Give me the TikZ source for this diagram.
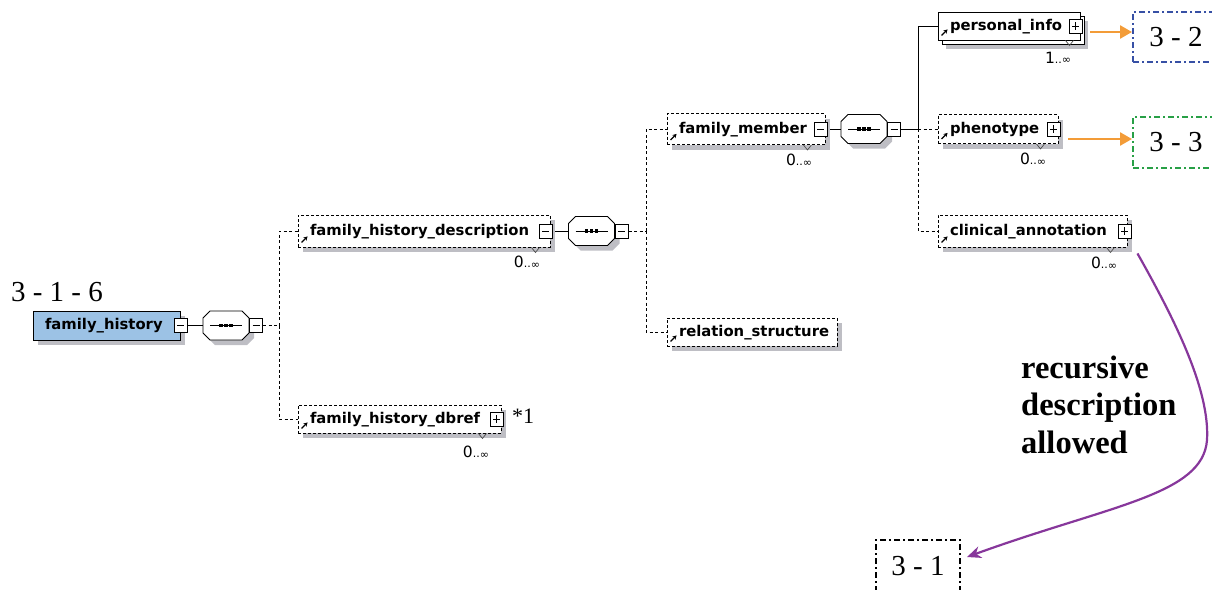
\documentclass[tikz,border=0pt]{standalone}
\usepackage{fontspec}
\setmainfont{Liberation Serif}
\newfontfamily\elemfont{DejaVu Sans}
\usetikzlibrary{arrows.meta,calc}
\pgfdeclarelayer{bg}
\pgfsetlayers{bg,main}

\definecolor{elemblue}{RGB}{156,194,229}
\definecolor{shadowgray}{RGB}{190,190,196}
\definecolor{linkorange}{RGB}{243,156,56}
\definecolor{refblue}{RGB}{55,80,165}
\definecolor{refgreen}{RGB}{40,160,70}
\definecolor{recpurple}{RGB}{135,55,155}

\tikzset{
  elem/.style={draw, line width=0.9pt, dash pattern=on 3pt off 2pt, fill=white,
    inner xsep=12pt, inner ysep=0pt, align=left, text height=11pt, text depth=3pt,
    font=\elemfont\bfseries\fontsize{14.8}{16}\selectfont,
    preaction={fill=shadowgray, transform canvas={shift={(5pt,-5pt)}}}},
  rootelem/.style={elem, solid, fill=elemblue},
  pmbase/.style={draw, solid, line width=0.8pt, fill=white, minimum width=13pt,
    minimum height=14pt, inner sep=0pt},
  minusbox/.style={pmbase, path picture={
    \draw[line width=0.8pt] ($(path picture bounding box.west)+(3pt,0)$) -- ($(path picture bounding box.east)+(-3pt,0)$);}},
  plusbox/.style={pmbase, path picture={
    \draw[line width=0.8pt] ($(path picture bounding box.west)+(3pt,0)$) -- ($(path picture bounding box.east)+(-3pt,0)$);
    \draw[line width=0.8pt] ($(path picture bounding box.north)+(0,-3pt)$) -- ($(path picture bounding box.south)+(0,3pt)$);}},
  conn/.style={line width=0.9pt, dash pattern=on 3pt off 2.5pt},
  solidconn/.style={line width=0.9pt},
  mult/.style={inner sep=0pt, font=\elemfont\fontsize{15.5}{16}\selectfont},
  repm/.style={line width=0.7pt, black!70},
  refbox/.style={line width=2pt, dash pattern=on 6pt off 3pt on 2pt off 3pt,
    font=\fontsize{29}{32}\selectfont},
  linkarrow/.style={draw=linkorange, line width=2.5pt, -{Triangle[length=12pt,width=13pt]}},
  recarrow/.style={draw=recpurple, line width=2.2pt, -{Stealth[length=14pt,width=12pt]}},
}

% octagonal sequence compositor outline
\newcommand\octpath[2]{({#1-16},{#2-14.5}) -- ({#1+16},{#2-14.5}) -- ({#1+23},{#2-7.5}) -- ({#1+23},{#2+7.5}) -- ({#1+16},{#2+14.5}) -- ({#1-16},{#2+14.5}) -- ({#1-23},{#2+7.5}) -- ({#1-23},{#2-7.5}) -- cycle}
\newcommand\seqnode[3]{%
  \node[minimum width=46pt, minimum height=29pt, inner sep=0pt] (#1) at (#2,#3) {};
  \fill[shadowgray, transform canvas={shift={(5pt,-5pt)}}] \octpath{#2}{#3};
  \filldraw[fill=white, draw=black, line width=0.9pt] \octpath{#2}{#3};
  \draw[line width=1pt] ({#2-16},#3) -- ({#2+16},#3);
  \foreach \d in {-5,0,5} \fill ({#2+\d-1.8},{#3-1.8}) rectangle ({#2+\d+1.8},{#3+1.8});
  \node[minusbox, anchor=west] (#1m) at (#1.east) {};
}
% small reference arrow in the lower left corner of an element
\newcommand\refarrow[1]{\draw[line width=1.3pt, -{Stealth[length=4pt,width=4.5pt]}] ($(#1.south west)+(4,-5)$) -- ++(6,-6);}
% repetition notch on the lower edge of an element
\newcommand\repmark[2]{\draw[repm] ($(#1.south east)+(#2,0)$) ++(-4,0) -- ++(4,5) -- ++(4,-5);}
\newcommand\multlabel[1]{#1{\fontsize{11}{11}\selectfont..\raisebox{-0.5pt}{∞}}}

\begin{document}
\begin{tikzpicture}[x=1pt, y=-1pt]
\useasboundingbox (0,0) rectangle (1212,589);

% root element and its sequence
\node[font=\fontsize{29}{32}\selectfont, inner sep=0pt] (lbl316) at (57,292.5) {3 - 1 - 6};
\node[rootelem, minimum height=29pt, text width=123pt] (fh) at (106.5,325.5) {family\_history};
\node[minusbox] (fhm) at (fh.east) {};
\seqnode{seq1}{226}{325.5}
\coordinate (j1) at (279,325.5);

% second level
\node[elem, minimum height=32pt, text width=228pt] (fhd) at (424,231) {family\_history\_description};
\node[minusbox, anchor=east] (fhdm) at ($(fhd.east)+(2,0)$) {};
\refarrow{fhd}
\repmark{fhd}{-15}
\node[mult] (fhdmult) at (527,262) {\multlabel{0}};

\node[elem, minimum height=28pt, text width=179pt] (dbref) at (399.5,419) {family\_history\_dbref};
\node[plusbox, anchor=east] (dbrefp) at ($(dbref.east)+(2,0)$) {};
\refarrow{dbref}
\repmark{dbref}{-19}
\node[mult] (dbrefmult) at (476,452) {\multlabel{0}};
\node[font=\fontsize{22}{24}\selectfont, inner sep=0pt, anchor=west] (note1) at (512,416) {*1};

\seqnode{seq2}{591.5}{231}
\coordinate (j2) at (646,231);

% third level
\node[elem, minimum height=31pt, text width=134pt] (fm) at (746,129) {family\_member};
\node[minusbox, anchor=east] (fmm) at ($(fm.east)+(2,0)$) {};
\refarrow{fm}
\repmark{fm}{-18}
\node[mult] (fmmult) at (799,160) {\multlabel{0}};

\node[elem, minimum height=28pt, text width=146pt] (rs) at (752,332) {relation\_structure};
\refarrow{rs}

\seqnode{seq3}{864}{129}
\coordinate (j3) at (918,129);

% children of family_member
\node[elem, solid, minimum height=28pt, text width=118pt,
  preaction={fill=shadowgray, transform canvas={shift={(8pt,-9pt)}}},
  preaction={draw, fill=white, transform canvas={shift={(4pt,-4pt)}}}] (pi) at (1009,26) {personal\_info};
\node[plusbox, anchor=east] (pip) at ($(pi.east)+(2,0)$) {};
\refarrow{pi}
\repmark{pi}{-11}
\node[mult] (pimult) at (1058,58) {\multlabel{1}};

\node[elem, minimum height=29pt, text width=96pt] (ph) at (998,129) {phenotype};
\node[plusbox, anchor=east] (php) at ($(ph.east)+(2,0)$) {};
\refarrow{ph}
\repmark{ph}{-18}
\node[mult] (phmult) at (1033,159) {\multlabel{0}};

\node[elem, minimum height=32pt, text width=165pt] (ca) at (1032.5,231) {clinical\_annotation};
\node[plusbox, anchor=east] (cap) at ($(ca.east)+(4,0)$) {};
\refarrow{ca}
\repmark{ca}{-17}
\node[mult] (camult) at (1104,263) {\multlabel{0}};

% cross references
\node[refbox, draw=refblue, minimum width=86pt, minimum height=50pt] (b32) at (1176,37) {3 - 2};
\node[refbox, draw=refgreen, minimum width=86pt, minimum height=51pt] (b33) at (1176,142.5) {3 - 3};
\node[refbox, draw=black, minimum width=84pt, minimum height=52pt] (b31) at (918,566) {3 - 1};

\node[font=\bfseries\fontsize{32.5}{37.5}\selectfont, align=left, inner sep=0pt, anchor=base west] (rec) at (1021,453)
  {recursive\\description\\allowed};

% tree connectors
\begin{pgfonlayer}{bg}
  \draw[solidconn] (fhm.east) -- (seq1.west);
  \draw[conn] (seq1m.east) -- (j1);
  \draw[conn] (j1) |- (fhd.west);
  \draw[conn] (j1) |- (dbref.west);
  \draw[solidconn] (fhdm.east) -- (seq2.west);
  \draw[conn] (seq2m.east) -- (j2);
  \draw[conn] (j2) |- (fm.west);
  \draw[conn] (j2) |- (rs.west);
  \draw[solidconn] (fmm.east) -- (seq3.west);
  \draw[solidconn] (seq3m.east) -- (j3);
  \draw[solidconn] (j3) |- (pi.west);
  \draw[conn] (j3) -- (ph.west);
  \draw[conn] (j3) |- (ca.west);
\end{pgfonlayer}

% links to other parts
\draw[linkarrow] ($(pi.east)+(10,6)$) coordinate (a32) -- (a32 -| b32.west);
\draw[linkarrow] ($(ph.east)+(10,10)$) coordinate (a33) -- (a33 -| b33.west);
\draw[recarrow] ($(ca.south east)+(10,6)$) .. controls (1175,320) and (1210,390) .. (1207,440)
  .. controls (1203,495) and (1110,505) .. ($(b31.east)+(6,-9)$);
\end{tikzpicture}
\end{document}
